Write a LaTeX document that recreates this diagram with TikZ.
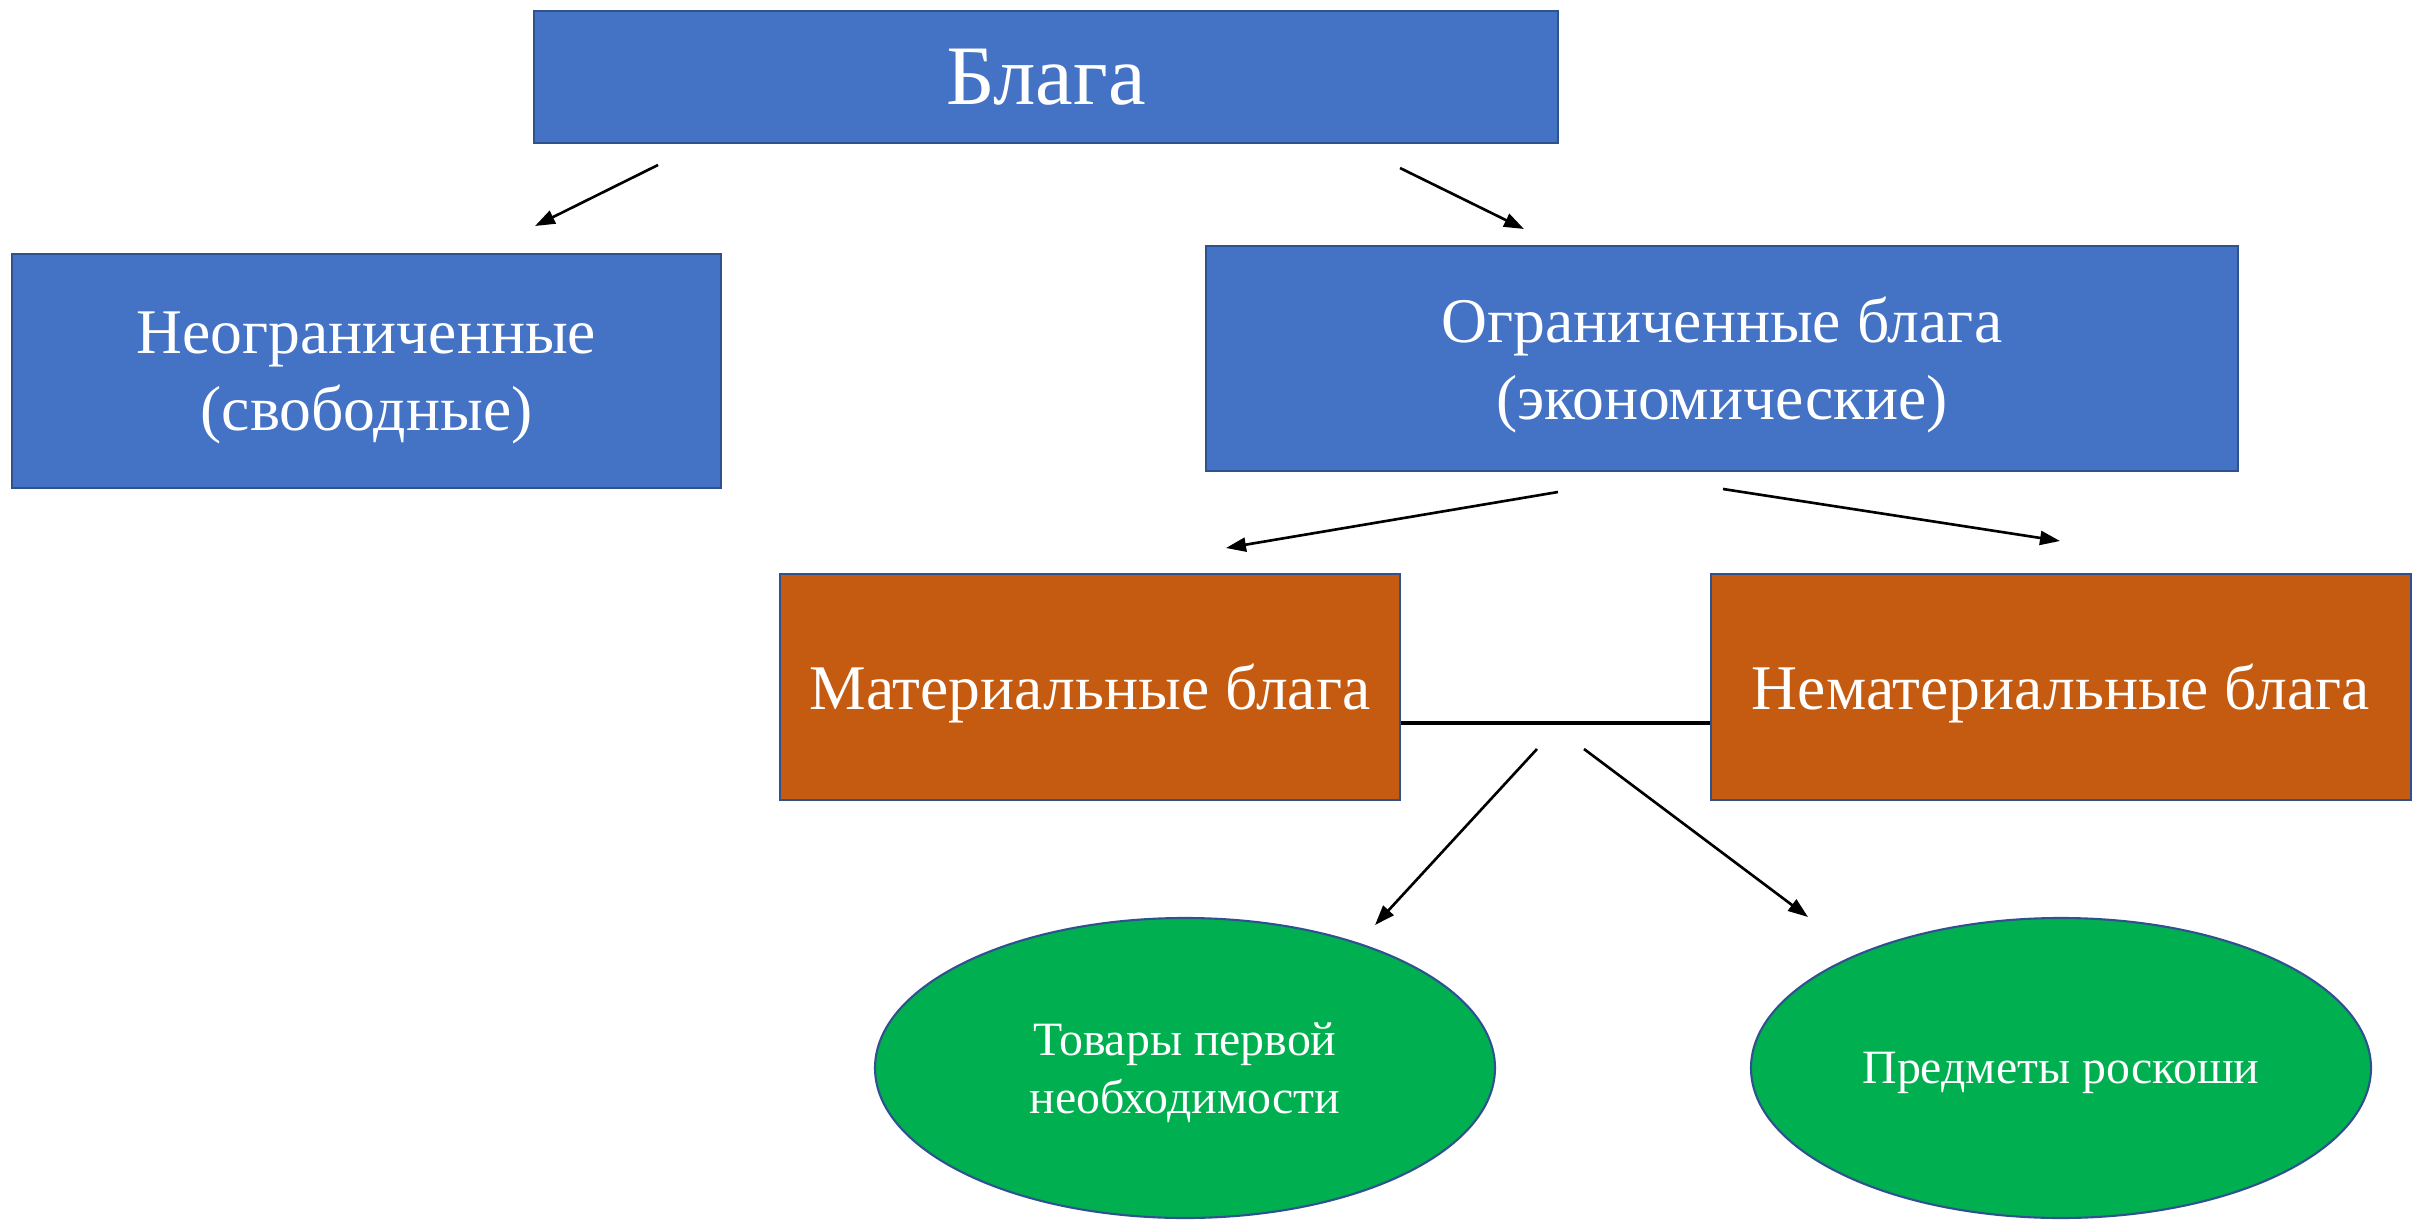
\documentclass[tikz,border=0pt]{standalone}
\usepackage{fontspec}
\setmainfont{Liberation Serif}
\usepackage{xcolor}
\usepackage{tikz}
\usetikzlibrary{
    arrows.meta,
    shapes.geometric
}
\definecolor{boxblue}{HTML}{4472C4}
\definecolor{boxorange}{HTML}{C55A11}
\definecolor{boxgreen}{HTML}{00B050}
\definecolor{edgeblue}{HTML}{2F528F}
\tikzset{
    goodbox/.style={draw=edgeblue, line width=0.6pt, text=white, align=center, inner sep=0pt, text depth=0pt},
    bluebox/.style={goodbox, fill=boxblue},
    orangebox/.style={goodbox, fill=boxorange},
    greenoval/.style={goodbox, ellipse, fill=boxgreen, font=\fontsize{13.6}{16.5}\selectfont},
    arr/.style={-{Triangle[length=2mm,width=1.4mm]}, line width=0.75pt}
}

\begin{document}
\begin{tikzpicture}
        \useasboundingbox (0,0) rectangle (24.12,-12.21);
        \begin{scope}[font=\fontsize{18.1}{22}\selectfont]
            \draw (10.46,-0.77) node[bluebox, minimum width=10.24cm, minimum height=1.32cm,
                font=\fontsize{24.1}{29}\selectfont](blaga){Блага};
            \draw (3.665,-3.71) node[bluebox, minimum width=7.09cm, minimum height=2.34cm](neogr){Неограниченные\\(свободные)};
            \draw (17.22,-3.585) node[bluebox, minimum width=10.32cm, minimum height=2.25cm](ogr){Ограниченные блага\\(экономические)};
            \draw (10.90,-6.87) node[orangebox, minimum width=6.20cm, minimum height=2.26cm](mat){Материальные блага};
            \draw (20.61,-6.87) node[orangebox, minimum width=7.00cm, minimum height=2.26cm](nemat){Нематериальные блага};
            \draw (11.85,-10.68) node[greenoval, minimum width=6.20cm, minimum height=3.00cm](tovary){Товары первой\\необходимости};
            \draw (20.61,-10.68) node[greenoval, minimum width=6.20cm, minimum height=3.00cm](roskosh){Предметы роскоши};
        \end{scope}

        % free arrow ends
        \coordinate (a1s) at (6.58,-1.65);   \coordinate (a1e) at (5.35,-2.26);
        \coordinate (a2s) at (14.00,-1.68);  \coordinate (a2e) at (15.24,-2.29);
        \coordinate (a3s) at (15.58,-4.92);  \coordinate (a3e) at (12.26,-5.48);
        \coordinate (a4s) at (17.23,-4.89);  \coordinate (a4e) at (20.60,-5.41);
        \coordinate (a5s) at (15.37,-7.49);  \coordinate (a5e) at (13.75,-9.25);
        \coordinate (a6s) at (15.84,-7.49);  \coordinate (a6e) at (18.08,-9.17);

        \draw[arr] (a1s) to (a1e);
        \draw[arr] (a2s) to (a2e);
        \draw[arr] (a3s) to (a3e);
        \draw[arr] (a4s) to (a4e);
        \draw[arr] (a5s) to (a5e);
        \draw[arr] (a6s) to (a6e);

        \draw[line width=1pt] ([yshift=-3.6mm]mat.east) to ([yshift=-3.6mm]nemat.west);
    \end{tikzpicture}
\end{document}
